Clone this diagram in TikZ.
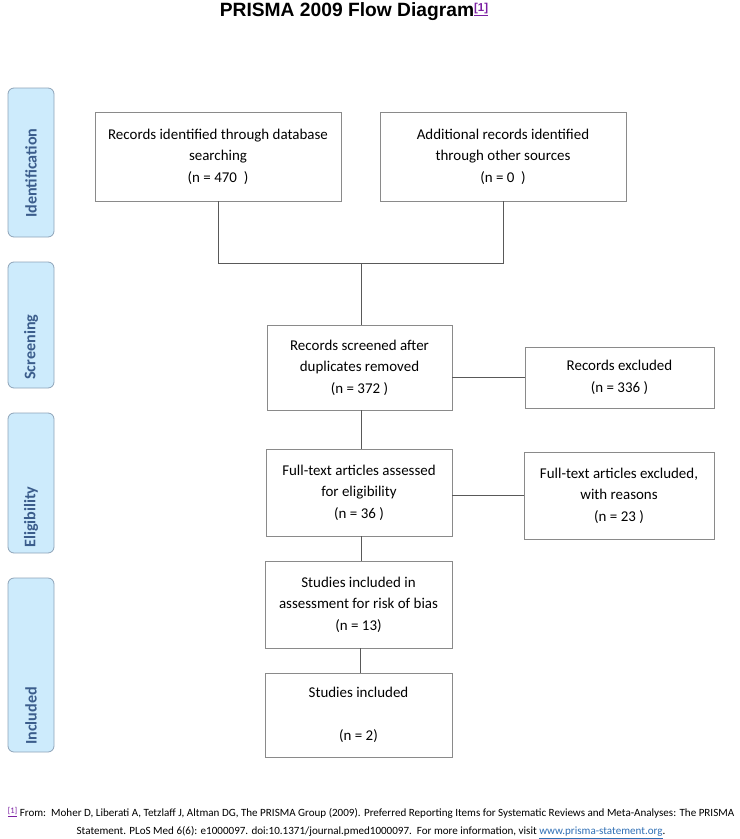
\documentclass[tikz,border=0pt]{standalone}
\usepackage{fontspec}
\setmainfont{Carlito}
\newfontfamily\titlefont{Liberation Sans}
\usetikzlibrary{positioning}
\definecolor{barfill}{HTML}{CDEBFC}
\definecolor{bardraw}{HTML}{8EA3B8}
\definecolor{bartext}{HTML}{3B5D8C}
\definecolor{boxdraw}{HTML}{8A8A8A}
\definecolor{linkpurple}{HTML}{7B1FA2}
\definecolor{linkblue}{HTML}{2F6FB5}
\newcommand{\ulink}[2]{\textcolor{#1}{\underline{#2}}}
\tikzset{
  stagebar/.style={draw=bardraw, fill=barfill, rounded corners=6bp, line width=0.8bp},
  stagelabel/.style={rotate=90, anchor=west, inner sep=0pt, text=bartext, font=\bfseries\fontsize{16.2}{18}\selectfont},
  flowbox/.style={draw=boxdraw, line width=0.8bp, align=center, inner sep=0pt, font=\fontsize{15}{21.5}\selectfont},
  conn/.style={draw=black!65, line width=0.7bp}
}
\begin{document}
\begin{tikzpicture}[x=1bp, y=-1bp]
\useasboundingbox (0,0) rectangle (740,839);
% title
\node (title) at (354,12) {\titlefont\bfseries\fontsize{19.3}{20}\selectfont PRISMA 2009 Flow Diagram\raisebox{0.5ex}{\fontsize{11.5}{12}\selectfont\ulink{linkpurple}{[1]}}};
% stage bars
\draw[stagebar] (8,88) rectangle (54,237);
\draw[stagebar] (8,262) rectangle (54,388);
\draw[stagebar] (8,413) rectangle (54,553);
\draw[stagebar] (8,578) rectangle (54,752);
\node[stagelabel] (lid) at (31,218) {Identification};
\node[stagelabel] (lsc) at (31,380) {Screening};
\node[stagelabel] (lel) at (31,548) {Eligibility};
\node[stagelabel] (lin) at (31,745) {Included};
% boxes
\node[flowbox, minimum width=246bp, minimum height=89bp] (a) at (218,156.5) {Records identified through database\\searching\\(n = 470\ \ )};
\node[flowbox, minimum width=246bp, minimum height=89bp] (b) at (503,156.5) {Additional records identified\\through other sources\\(n = 0\ \ )};
\node[flowbox, minimum width=185bp, minimum height=85bp] (scr) at (359.5,367.5) {Records screened after\\duplicates removed\\(n = 372 )};
\node[flowbox, minimum width=189bp, minimum height=61bp] (exc) at (619.5,377.5) {Records excluded\\(n = 336 )};
\node[flowbox, minimum width=186bp, minimum height=87bp] (full) at (359,492.5) {Full-text articles assessed\\for eligibility\\(n = 36 )};
\node[flowbox, minimum width=190bp, minimum height=87bp] (excr) at (619,495.5) {Full-text articles excluded,\\with reasons\\(n = 23 )};
\node[flowbox, minimum width=187bp, minimum height=87bp] (risk) at (358.5,604.5) {Studies included in\\assessment for risk of bias\\(n = 13)};
\node[flowbox, minimum width=187bp, minimum height=84bp] (incl) at (358.5,715) {Studies included\\[21.5bp](n = 2)};
% connectors
\coordinate (j) at (361,263);
\draw[conn] (a.south) -- (a.south |- j) -- (b.south |- j) -- (b.south);
\draw[conn] (j) -- (j |- scr.north);
\draw[conn] (scr.east |- exc.west) -- (exc.west);
\draw[conn] (scr.south -| 361,0) -- (full.north -| 361,0);
\draw[conn] (full.east |- excr.west) -- (excr.west);
\draw[conn] (full.south -| 361,0) -- (risk.north -| 361,0);
\draw[conn] (risk.south -| 360,0) -- (incl.north -| 360,0);
% footnote
\node[align=center, inner sep=0pt, font=\fontsize{11.1}{18}\selectfont] (foot) at (371,823) {\raisebox{0.5ex}{\fontsize{8.5}{9}\selectfont\ulink{linkpurple}{[1]}} From:\ \ Moher D, Liberati A, Tetzlaff J, Altman DG, The PRISMA Group (2009). Preferred Reporting Items for Systematic Reviews and Meta-Analyses: The PRISMA\\Statement. PLoS Med 6(6): e1000097. doi:10.1371/journal.pmed1000097.\ \ For more information, visit \ulink{linkblue}{www.prisma-statement.org}.};
\end{tikzpicture}
\end{document}
